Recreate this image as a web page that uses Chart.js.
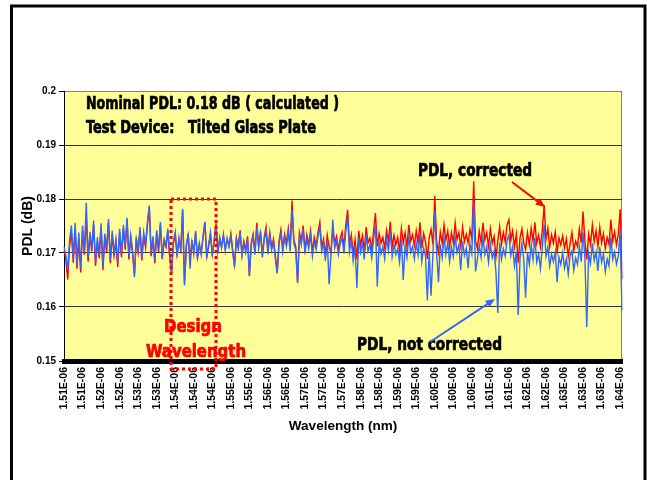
<!DOCTYPE html>
<html>
<head>
<meta charset="utf-8">
<script src="https://cdn.jsdelivr.net/npm/chart.js@4.4.1/dist/chart.umd.min.js"></script>
<style>
  html, body { margin: 0; padding: 0; background: #fff; }
  #wrap { width: 647px; height: 480px; position: relative; }
</style>
</head>
<body>
<div id="wrap"><canvas id="pdl-chart"></canvas></div>
<script>
// tick labels on the wavelength axis, one every 10 samples
const wavelengthTicks = [
    '1.51E-06', '1.51E-06', '1.52E-06', '1.52E-06', '1.53E-06', '1.53E-06',
    '1.54E-06', '1.54E-06', '1.54E-06', '1.55E-06', '1.55E-06', '1.56E-06',
    '1.56E-06', '1.57E-06', '1.57E-06', '1.57E-06', '1.58E-06', '1.58E-06',
    '1.59E-06', '1.59E-06', '1.60E-06', '1.60E-06', '1.60E-06', '1.61E-06',
    '1.61E-06', '1.62E-06', '1.62E-06', '1.63E-06', '1.63E-06', '1.63E-06',
    '1.64E-06'
];
const samplesPerTick = 10;

// PDL, corrected (dB)
const pdlCorrected = [
    0.1705, 0.1688, 0.1651, 0.1712, 0.1738, 0.1682, 0.1745, 0.1671, 0.1726, 0.1664,
    0.1742, 0.1697, 0.1768, 0.1684, 0.1731, 0.1703, 0.1752, 0.1676, 0.1721, 0.1690,
    0.1748, 0.1668, 0.1729, 0.1702, 0.1757, 0.1681, 0.1734, 0.1695, 0.1719, 0.1674,
    0.1738, 0.1692, 0.1745, 0.1706, 0.1762, 0.1688, 0.1728, 0.1699, 0.1661, 0.1724,
    0.1701, 0.1742, 0.1686, 0.1733, 0.1710, 0.1752, 0.1785, 0.1694, 0.1727, 0.1681,
    0.1738, 0.1702, 0.1753, 0.1689, 0.1722, 0.1711, 0.1741, 0.1693, 0.1663, 0.1718,
    0.1735, 0.1697, 0.1724, 0.1706, 0.1779, 0.1643, 0.1715, 0.1733, 0.1689, 0.1721,
    0.1703, 0.1738, 0.1692, 0.1715, 0.1701, 0.1728, 0.1757, 0.1694, 0.1712, 0.1735,
    0.1698, 0.1721, 0.1755, 0.1703, 0.1726, 0.1712, 0.1732, 0.1708, 0.1725, 0.1714,
    0.1736, 0.1705, 0.1679, 0.1728, 0.1711, 0.1742, 0.1698, 0.1722, 0.1706, 0.1731,
    0.1657, 0.1719, 0.1735, 0.1702, 0.1756, 0.1713, 0.1741, 0.1697, 0.1729, 0.1748,
    0.1704, 0.1738, 0.1711, 0.1726, 0.1695, 0.1664, 0.1722, 0.1743, 0.1708, 0.1735,
    0.1718, 0.1745, 0.1709, 0.1797, 0.1724, 0.1712, 0.1646, 0.1738, 0.1722, 0.1751,
    0.1707, 0.1734, 0.1716, 0.1741, 0.1702, 0.1729, 0.1714, 0.1738, 0.1757, 0.1711,
    0.1726, 0.1695, 0.1733, 0.1712, 0.1701, 0.1744, 0.1718, 0.1731, 0.1706, 0.1727,
    0.1739, 0.1711, 0.1752, 0.1780, 0.1716, 0.1734, 0.1698, 0.1725, 0.1688, 0.1741,
    0.1715, 0.1732, 0.1704, 0.1748, 0.1719, 0.1728, 0.1707, 0.1741, 0.1774, 0.1712,
    0.1736, 0.1718, 0.1729, 0.1709, 0.1742, 0.1722, 0.1758, 0.1711, 0.1733, 0.1715,
    0.1729, 0.1703, 0.1746, 0.1719, 0.1738, 0.1711, 0.1752, 0.1722, 0.1734, 0.1714,
    0.1741, 0.1718, 0.1757, 0.1709, 0.1736, 0.1721, 0.1689, 0.1728, 0.1744, 0.1716,
    0.1806, 0.1722, 0.1701, 0.1739, 0.1718, 0.1752, 0.1724, 0.1741, 0.1712, 0.1738,
    0.1719, 0.1756, 0.1725, 0.1738, 0.1712, 0.1748, 0.1721, 0.1735, 0.1718, 0.1744,
    0.1726, 0.1833, 0.1722, 0.1708, 0.1741, 0.1719, 0.1756, 0.1724, 0.1738, 0.1712,
    0.1745, 0.1718, 0.1731, 0.1692, 0.1722, 0.1749, 0.1716, 0.1738, 0.1721, 0.1752,
    0.1762, 0.1724, 0.1741, 0.1711, 0.1735, 0.1682, 0.1728, 0.1745, 0.1719, 0.1706,
    0.1738, 0.1715, 0.1746, 0.1722, 0.1757, 0.1718, 0.1733, 0.1711, 0.1742, 0.1789,
    0.1725, 0.1746, 0.1711, 0.1734, 0.1718, 0.1739, 0.1702, 0.1728, 0.1715, 0.1732,
    0.1709, 0.1726, 0.1694, 0.1718, 0.1738, 0.1705, 0.1722, 0.1712, 0.1745, 0.1719,
    0.1777, 0.1722, 0.1688, 0.1735, 0.1716, 0.1752, 0.1721, 0.1741, 0.1712, 0.1748,
    0.1719, 0.1736, 0.1708, 0.1729, 0.1716, 0.1762, 0.1722, 0.1739, 0.1715, 0.1735,
    0.1781, 0.1652
];

// PDL, not corrected (dB)
const pdlNotCorrected = [
    0.1712, 0.1695, 0.1668, 0.1724, 0.1751, 0.1690, 0.1756, 0.1678, 0.1738, 0.1672,
    0.1751, 0.1702, 0.1793, 0.1691, 0.1739, 0.1708, 0.1760, 0.1683, 0.1729, 0.1697,
    0.1755, 0.1675, 0.1736, 0.1709, 0.1763, 0.1688, 0.1741, 0.1701, 0.1726, 0.1681,
    0.1745, 0.1698, 0.1752, 0.1711, 0.1765, 0.1693, 0.1733, 0.1704, 0.1655, 0.1729,
    0.1706, 0.1748, 0.1691, 0.1738, 0.1714, 0.1757, 0.1788, 0.1699, 0.1731, 0.1686,
    0.1742, 0.1706, 0.1758, 0.1691, 0.1726, 0.1714, 0.1745, 0.1696, 0.1660, 0.1722,
    0.1739, 0.1693, 0.1728, 0.1702, 0.1782, 0.1640, 0.1712, 0.1737, 0.1671, 0.1724,
    0.1698, 0.1741, 0.1688, 0.1718, 0.1697, 0.1731, 0.1758, 0.1690, 0.1715, 0.1738,
    0.1694, 0.1724, 0.1752, 0.1700, 0.1729, 0.1709, 0.1735, 0.1704, 0.1728, 0.1711,
    0.1731, 0.1701, 0.1674, 0.1725, 0.1707, 0.1738, 0.1694, 0.1718, 0.1701, 0.1727,
    0.1659, 0.1714, 0.1731, 0.1697, 0.1748, 0.1709, 0.1736, 0.1692, 0.1724, 0.1741,
    0.1698, 0.1733, 0.1705, 0.1721, 0.1689, 0.1662, 0.1717, 0.1737, 0.1702, 0.1729,
    0.1712, 0.1738, 0.1703, 0.1780, 0.1718, 0.1706, 0.1644, 0.1731, 0.1715, 0.1744,
    0.1699, 0.1727, 0.1708, 0.1734, 0.1694, 0.1722, 0.1706, 0.1731, 0.1748, 0.1703,
    0.1718, 0.1686, 0.1724, 0.1642, 0.1695, 0.1762, 0.1709, 0.1722, 0.1697, 0.1718,
    0.1728, 0.1699, 0.1741, 0.1765, 0.1702, 0.1724, 0.1685, 0.1712, 0.1635, 0.1729,
    0.1701, 0.1718, 0.1688, 0.1734, 0.1703, 0.1715, 0.1691, 0.1726, 0.1752, 0.1638,
    0.1719, 0.1698, 0.1712, 0.1689, 0.1726, 0.1704, 0.1741, 0.1693, 0.1716, 0.1697,
    0.1708, 0.1683, 0.1726, 0.1650, 0.1714, 0.1692, 0.1731, 0.1701, 0.1712, 0.1689,
    0.1718, 0.1696, 0.1735, 0.1684, 0.1709, 0.1695, 0.1612, 0.1704, 0.1621, 0.1698,
    0.1778, 0.1702, 0.1646, 0.1716, 0.1691, 0.1728, 0.1697, 0.1719, 0.1684, 0.1711,
    0.1693, 0.1731, 0.1701, 0.1715, 0.1668, 0.1722, 0.1695, 0.1709, 0.1672, 0.1718,
    0.1699, 0.1795, 0.1666, 0.1688, 0.1714, 0.1692, 0.1728, 0.1697, 0.1712, 0.1683,
    0.1716, 0.1691, 0.1704, 0.1665, 0.1589, 0.1719, 0.1688, 0.1708, 0.1694, 0.1724,
    0.1733, 0.1695, 0.1712, 0.1676, 0.1702, 0.1585, 0.1691, 0.1718, 0.1688, 0.1617,
    0.1702, 0.1679, 0.1715, 0.1688, 0.1728, 0.1683, 0.1698, 0.1671, 0.1709, 0.1752,
    0.1694, 0.1711, 0.1676, 0.1698, 0.1684, 0.1702, 0.1646, 0.1692, 0.1679, 0.1701,
    0.1672, 0.1689, 0.1661, 0.1695, 0.1704, 0.1668, 0.1691, 0.1679, 0.1712, 0.1684,
    0.1738, 0.1690, 0.1563, 0.1699, 0.1681, 0.1718, 0.1686, 0.1702, 0.1667, 0.1711,
    0.1683, 0.1698, 0.1665, 0.1689, 0.1676, 0.1729, 0.1688, 0.1702, 0.1679, 0.1694,
    0.1741, 0.1594
];

const narrowFont = '"Liberation Sans Narrow", "DejaVu Sans Condensed", "Arial Narrow", Arial, sans-serif';
const axisFont = 'Arial, "Liberation Sans", sans-serif';

// one label per sample, only every 10th one carries text
const categories = pdlCorrected.map((v, i) =>
    i % samplesPerTick === 0 ? (wavelengthTicks[i / samplesPerTick] || '') : '');

// bold condensed text squeezed to the width seen in the original
function fitText(ctx, text, x, y, width, size, color) {
    ctx.save();
    ctx.font = 'bold ' + size + 'px ' + narrowFont;
    ctx.fillStyle = color;
    ctx.strokeStyle = color;
    ctx.lineWidth = 0.7;
    ctx.textBaseline = 'alphabetic';
    ctx.textAlign = 'left';
    const w = ctx.measureText(text).width;
    ctx.translate(x, y);
    ctx.scale(width / w, 1);
    ctx.fillText(text, 0, 0);
    ctx.strokeText(text, 0, 0);
    ctx.restore();
}

function arrow(ctx, x1, y1, x2, y2, color) {
    const ang = Math.atan2(y2 - y1, x2 - x1);
    const head = 10;
    ctx.save();
    ctx.strokeStyle = color;
    ctx.fillStyle = color;
    ctx.lineWidth = 2;
    ctx.beginPath();
    ctx.moveTo(x1, y1);
    ctx.lineTo(x2 - Math.cos(ang) * head * 0.8, y2 - Math.sin(ang) * head * 0.8);
    ctx.stroke();
    ctx.beginPath();
    ctx.moveTo(x2, y2);
    ctx.lineTo(x2 - head * Math.cos(ang - 0.4), y2 - head * Math.sin(ang - 0.4));
    ctx.lineTo(x2 - head * Math.cos(ang + 0.4), y2 - head * Math.sin(ang + 0.4));
    ctx.closePath();
    ctx.fill();
    ctx.restore();
}

const plotBackground = {
    id: 'plotBackground',
    beforeDraw(chart) {
        const { ctx, chartArea: a } = chart;
        ctx.save();
        ctx.fillStyle = '#FFFF99';
        ctx.fillRect(a.left, a.top, a.right - a.left, a.bottom - a.top);
        ctx.strokeStyle = '#808080';
        ctx.lineWidth = 1;
        ctx.strokeRect(a.left + 0.5, a.top + 0.5, a.right - a.left - 1, a.bottom - a.top);
        // outer frame of the slide graphic
        ctx.strokeStyle = '#000';
        ctx.lineWidth = 3;
        ctx.beginPath();
        ctx.moveTo(11.5, 480);
        ctx.lineTo(11.5, 6);
        ctx.lineTo(645, 6);
        ctx.lineTo(645, 480);
        ctx.stroke();
        ctx.restore();
    }
};

const annotations = {
    id: 'annotations',
    afterDraw(chart) {
        const ctx = chart.ctx;
        fitText(ctx, 'Nominal PDL: 0.18 dB ( calculated )', 86, 109, 253, 18, '#000');
        fitText(ctx, 'Test Device:   Tilted Glass Plate', 86, 133, 230, 18, '#000');
        fitText(ctx, 'PDL, corrected', 418, 176, 114, 18, '#000');
        fitText(ctx, 'PDL, not corrected', 357, 350, 145, 18, '#000');
        fitText(ctx, 'Design', 164, 332, 58, 18, '#FF0000');
        fitText(ctx, 'Wavelength', 146, 357, 100, 18, '#FF0000');

        arrow(ctx, 512, 182, 545, 207, '#FF0000');
        arrow(ctx, 430, 342, 495, 299, '#3366FF');

        // dotted box round the design wavelength
        ctx.save();
        ctx.strokeStyle = '#FF0000';
        ctx.lineWidth = 3;
        ctx.setLineDash([3, 3]);
        ctx.strokeRect(171, 199, 45, 170);
        ctx.restore();
    }
};

const chartCtx = document.getElementById('pdl-chart').getContext('2d');
const pdlChart = new Chart(chartCtx, {
    type: 'line',
    data: {
        labels: categories,
        datasets: [{
            label: 'PDL, not corrected',
            data: pdlNotCorrected,
            borderColor: '#3366FF',
            borderWidth: 1.4,
            pointRadius: 0,
            tension: 0,
            fill: false
        }, {
            label: 'PDL, corrected',
            data: pdlCorrected,
            borderColor: '#FF0000',
            borderWidth: 1.4,
            pointRadius: 0,
            tension: 0,
            fill: false
        }]
    },
    options: {
        responsive: true,
        maintainAspectRatio: false,
        animation: false,
        layout: { padding: { top: 91, right: 25, left: 0, bottom: 0 } },
        plugins: {
            legend: { display: false },
            tooltip: { enabled: false }
        },
        scales: {
            x: {
                type: 'category',
                offset: false,
                grid: { display: false, drawTicks: false },
                border: { display: true, color: '#000', width: 5 },
                ticks: {
                    autoSkip: false,
                    minRotation: 90,
                    maxRotation: 90,
                    padding: 6,
                    color: '#000',
                    font: { family: axisFont, size: 10.5, weight: 'bold' }
                },
                title: {
                    display: true,
                    text: 'Wavelength (nm)',
                    color: '#000',
                    font: { family: axisFont, size: 13.5, weight: 'bold' },
                    padding: { top: 0, bottom: 46 }
                },
                afterFit(scale) { scale.height = 119; }
            },
            y: {
                min: 0.15,
                max: 0.2,
                grid: {
                    color: c => (c.tick && c.tick.value > 0.199) ? '#808080' : '#333',
                    tickColor: '#000',
                    tickLength: 5,
                    lineWidth: 1
                },
                border: { display: true, color: '#000', width: 1 },
                ticks: {
                    stepSize: 0.01,
                    padding: 3,
                    color: '#000',
                    font: { family: axisFont, size: 10, weight: 'bold' },
                    callback: v => String(Number(v.toFixed(2)))
                },
                title: {
                    display: true,
                    text: 'PDL (dB)',
                    color: '#000',
                    font: { family: axisFont, size: 14, weight: 'bold' },
                    padding: { top: 20, bottom: 0 }
                },
                afterFit(scale) { scale.width = 64; }
            }
        }
    },
    plugins: [plotBackground, annotations]
});
</script>
</body>
</html>
